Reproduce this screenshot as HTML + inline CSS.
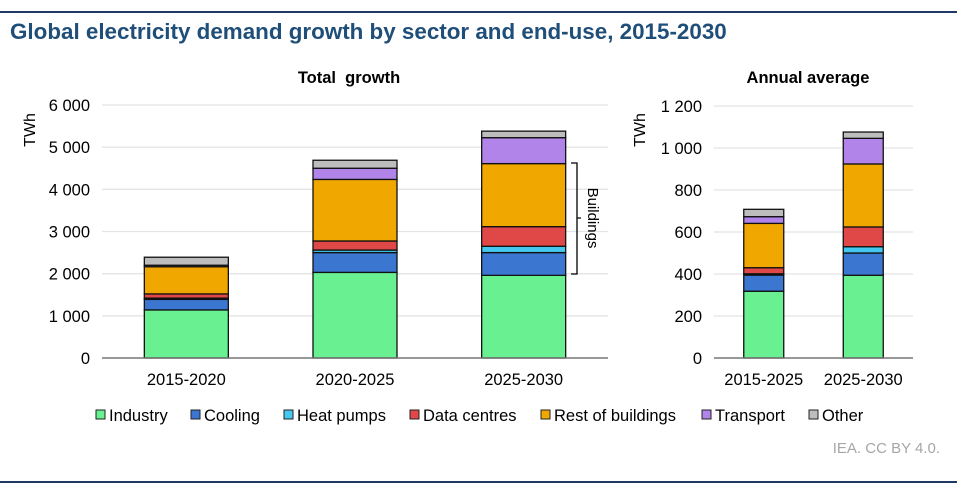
<!DOCTYPE html>
<html><head><meta charset="utf-8"><style>
body{margin:0;width:957px;height:492px;background:#fff;font-family:"Liberation Sans",Arial,sans-serif;overflow:hidden}
</style></head><body>
<svg id="svg" width="957" height="492" xmlns="http://www.w3.org/2000/svg" font-family="Liberation Sans, Arial, sans-serif">
<line x1="0" y1="12" x2="957" y2="12" stroke="#1f3864" stroke-width="2"/>
<line x1="0" y1="482" x2="957" y2="482" stroke="#1f3864" stroke-width="2"/>
<text x="10" y="39" font-size="22.4" font-weight="bold" fill="#1f4e79">Global electricity demand growth by sector and end-use, 2015-2030</text>
<text x="349" y="83" font-size="16.5" font-weight="bold" text-anchor="middle" fill="#000" xml:space="preserve" style="white-space:pre">Total  growth</text>
<text x="808" y="83" font-size="16.5" font-weight="bold" text-anchor="middle" fill="#000">Annual average</text>
<text transform="translate(35,130) rotate(-90)" font-size="16" text-anchor="middle">TWh</text>
<text transform="translate(645,130) rotate(-90)" font-size="16" text-anchor="middle">TWh</text>
<g id="left"></g>
<g id="right"></g>
<g>
<path d="M571,163 L577,163 L577,274 L571,274 M577,218 L581,218" fill="none" stroke="#000" stroke-width="1.3"/>
<text transform="translate(588,218) rotate(90)" font-size="15" text-anchor="middle">Buildings</text>
</g>
<g id="legend"></g>
<text x="940" y="453" font-size="15" fill="#a6a6a6" text-anchor="end">IEA. CC BY 4.0.</text>
</svg>
<script>
const series = ["Industry","Cooling","Heat pumps","Data centres","Rest of buildings","Transport","Other"];
const colors = ["#69f090","#3b76d0","#45c8f0","#e04848","#f0a800","#b084e8","#bdbdbd"];
const leftCats = ["2015-2020","2020-2025","2025-2030"];
const leftIndustry = [1140,2030,1960];
const leftCooling = [250,470,540];
const leftHeatPumps = [30,60,150];
const leftDataCentres = [100,215,465];
const leftRest = [645,1460,1495];
const leftTransport = [35,265,615];
const leftOther = [190,190,155];
const leftTicks = [0,1000,2000,3000,4000,5000,6000];
const leftTickLabels = ["0","1 000","2 000","3 000","4 000","5 000","6 000"];
const rightCats = ["2015-2025","2025-2030"];
const rightIndustry = [318,394];
const rightCooling = [77,106];
const rightHeatPumps = [6,30];
const rightDataCentres = [29,94];
const rightRest = [211,300];
const rightTransport = [32,122];
const rightOther = [35,30];
const rightTicks = [0,200,400,600,800,1000,1200];
const rightTickLabels = ["0","200","400","600","800","1 000","1 200"];
const legendX = [96,191,284,410,541,702,809];

const NS="http://www.w3.org/2000/svg";
function mk(tag,attrs,parent){const e=document.createElementNS(NS,tag);for(const k in attrs)e.setAttribute(k,attrs[k]);parent.appendChild(e);return e;}

function drawChart(g,cfg){
  const y=v=>cfg.y0-(v/cfg.max)*(cfg.y0-cfg.yTop);
  const bw=(cfg.x1-cfg.x0)/cfg.cats.length;
  cfg.ticks.forEach((t,i)=>{
    if(t>0){const l=mk('line',{x1:cfg.x0,x2:cfg.x1,y1:y(t),y2:y(t),stroke:'#e4e4e4','stroke-width':1.3},g);
    
    }
    const tx=mk('text',{x:cfg.x0-12,y:y(t)+6,'font-size':16.5,'text-anchor':'end'},g);
    tx.textContent=cfg.tickLabels[i];
    
    
  });
  cfg.cats.forEach((c,i)=>{
    const cx=cfg.x0+bw*(i+0.5);
    let cum=0;
    cfg.vals.forEach((arr,s)=>{
      const v=arr[i];
      const r=mk('rect',{x:cx-cfg.w/2,y:y(cum+v),width:cfg.w,height:y(cum)-y(cum+v),fill:colors[s],stroke:'#111','stroke-width':1.3},g);
      
      
      cum+=v;
    });
    const tx=mk('text',{x:cx,y:cfg.y0+27,'font-size':16.5,'text-anchor':'middle'},g);
    tx.textContent=c;
    
    
  });
  const ax=mk('line',{x1:cfg.x0,x2:cfg.x1,y1:cfg.y0,y2:cfg.y0,stroke:'#777','stroke-width':1.5},g);
  
  
}
drawChart(document.getElementById('left'),{x0:102,x1:608,y0:358,yTop:105,max:6000,w:84,cats:leftCats,
  vals:[leftIndustry,leftCooling,leftHeatPumps,leftDataCentres,leftRest,leftTransport,leftOther],ticks:leftTicks,tickLabels:leftTickLabels});
drawChart(document.getElementById('right'),{x0:714,x1:913,y0:358,yTop:106,max:1200,w:40,cats:rightCats,
  vals:[rightIndustry,rightCooling,rightHeatPumps,rightDataCentres,rightRest,rightTransport,rightOther],ticks:rightTicks,tickLabels:rightTickLabels});
const lg=document.getElementById('legend');
series.forEach((s,i)=>{
  const r=mk('rect',{x:legendX[i],y:410,width:9,height:9,fill:colors[i],stroke:'#222','stroke-width':1},lg);
  
  
  const t=mk('text',{x:legendX[i]+13,y:421,'font-size':16.5},lg);
  t.textContent=s;
  
  
});
</script>
</body></html>
